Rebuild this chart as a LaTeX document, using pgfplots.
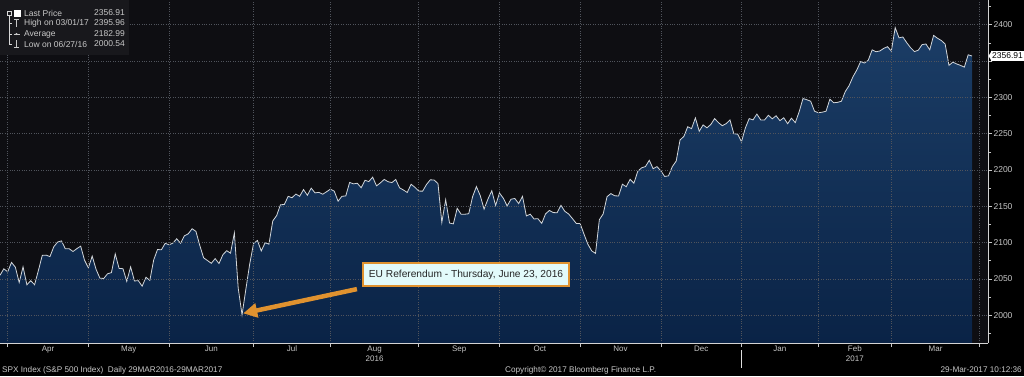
\documentclass[border=0pt]{standalone}
\usepackage{pgfplots}
\pgfplotsset{compat=1.18}
\usepackage{pgfplotstable}
\usetikzlibrary{arrows.meta}
\usepackage{fontspec}
\setmainfont{Liberation Sans}
\definecolor{bgplot}{HTML}{0E0E12}
\definecolor{navytop}{HTML}{1B3D66}
\definecolor{navybot}{HTML}{0A2346}
\definecolor{gridc}{HTML}{50545C}
\definecolor{txt}{HTML}{C8C8C8}
\definecolor{linec}{HTML}{D2D6DA}
\definecolor{arrowc}{HTML}{E0922F}
\definecolor{boxfill}{HTML}{E2FAFA}
\definecolor{legbg}{HTML}{18181C}

% rows 254-255 close the filled area down to the bottom of the axis
\pgfplotstableread{
i v
0 2055.01
1 2063.95
2 2059.74
3 2072.78
4 2066.13
5 2045.17
6 2066.66
7 2041.91
8 2047.60
9 2041.99
10 2061.72
11 2082.42
12 2082.78
13 2080.73
14 2094.34
15 2100.80
16 2102.40
17 2091.48
18 2091.58
19 2087.79
20 2091.70
21 2095.15
22 2075.81
23 2065.30
24 2081.43
25 2063.37
26 2051.12
27 2050.63
28 2057.14
29 2058.69
30 2084.39
31 2064.46
32 2064.11
33 2046.61
34 2066.66
35 2047.21
36 2047.63
37 2040.04
38 2052.32
39 2048.04
40 2076.06
41 2090.54
42 2090.10
43 2099.06
44 2096.95
45 2099.33
46 2105.26
47 2099.13
48 2109.41
49 2112.13
50 2119.12
51 2115.48
52 2096.07
53 2079.06
54 2075.32
55 2071.50
56 2077.99
57 2071.22
58 2083.25
59 2088.90
60 2085.45
61 2113.32
62 2037.41
63 2000.54
64 2036.09
65 2070.77
66 2098.86
67 2102.95
68 2088.55
69 2099.73
70 2097.90
71 2129.90
72 2137.16
73 2152.14
74 2152.43
75 2163.75
76 2161.74
77 2166.89
78 2163.78
79 2173.02
80 2165.17
81 2175.03
82 2168.48
83 2169.18
84 2166.58
85 2170.06
86 2173.60
87 2170.84
88 2157.03
89 2163.79
90 2164.25
91 2182.87
92 2180.89
93 2181.74
94 2175.49
95 2185.79
96 2184.05
97 2190.15
98 2178.15
99 2182.22
100 2187.02
101 2183.87
102 2182.64
103 2186.90
104 2175.44
105 2172.47
106 2169.04
107 2180.38
108 2176.12
109 2170.95
110 2170.86
111 2179.98
112 2186.48
113 2186.16
114 2181.30
115 2127.81
116 2159.04
117 2127.02
118 2125.77
119 2147.26
120 2139.16
121 2139.12
122 2139.76
123 2163.12
124 2177.18
125 2164.69
126 2146.10
127 2159.93
128 2171.37
129 2151.13
130 2168.27
131 2161.20
132 2150.49
133 2159.73
134 2160.77
135 2153.74
136 2163.66
137 2136.73
138 2139.18
139 2132.55
140 2132.98
141 2126.50
142 2139.60
143 2144.29
144 2141.34
145 2141.16
146 2151.33
147 2143.16
148 2139.43
149 2133.04
150 2126.41
151 2126.15
152 2111.72
153 2097.94
154 2088.66
155 2085.18
156 2131.52
157 2139.56
158 2163.26
159 2167.48
160 2164.45
161 2164.20
162 2180.39
163 2176.94
164 2187.12
165 2181.90
166 2198.18
167 2202.94
168 2204.72
169 2213.35
170 2201.72
171 2204.66
172 2198.81
173 2191.08
174 2191.95
175 2204.71
176 2212.23
177 2241.35
178 2246.19
179 2259.53
180 2256.96
181 2271.72
182 2253.28
183 2262.03
184 2258.07
185 2262.53
186 2270.76
187 2265.18
188 2260.96
189 2263.79
190 2268.88
191 2249.92
192 2249.26
193 2238.83
194 2257.83
195 2270.75
196 2269.00
197 2276.98
198 2268.90
199 2268.90
200 2275.32
201 2270.44
202 2274.64
203 2267.89
204 2271.89
205 2263.69
206 2271.31
207 2265.20
208 2280.07
209 2298.37
210 2296.68
211 2294.69
212 2280.90
213 2278.87
214 2279.55
215 2280.85
216 2297.42
217 2292.56
218 2293.08
219 2294.67
220 2307.87
221 2316.10
222 2328.25
223 2337.58
224 2349.25
225 2347.22
226 2351.16
227 2365.38
228 2362.82
229 2363.81
230 2367.34
231 2369.75
232 2363.64
233 2395.96
234 2381.92
235 2383.12
236 2375.31
237 2368.39
238 2362.98
239 2364.87
240 2372.60
241 2373.47
242 2365.45
243 2385.26
244 2381.38
245 2378.25
246 2373.47
247 2344.02
248 2348.45
249 2345.96
250 2343.98
251 2341.59
252 2358.57
253 2356.91
253 1961.8
0 1961.8
}\spx

\begin{document}
\begin{tikzpicture}[x=1pt,y=1pt]
\fill[black] (0,0) rectangle (1024,376);
\begin{axis}[
  at={(0pt,33pt)}, anchor=south west,
  scale only axis, width=988pt, height=343pt,
  xmin=0, xmax=257.16, ymin=1961.8, ymax=2434,
  axis x line*=bottom, axis y line*=right,
  axis line style={-, color=txt!80, line width=0.8pt},
  axis background/.style={fill=bgplot},
  axis on top,
  grid=major,
  major grid style={gridc, dotted, line width=0.6pt},
  xtick={2,23,44,66,86,109,130,151,172,193,213,232,255},
  xticklabels={},
  extra x ticks={12.5,33.5,55,76,97.5,119.5,140.5,161.5,182.5,203,222.5,243.5},
  extra x tick labels={Apr,May,Jun,Jul,{Aug\\2016},Sep,Oct,Nov,Dec,Jan,{Feb\\2017},Mar},
  extra x tick style={grid=none, major tick length=0pt},
  xticklabel style={align=center, font=\fontsize{8}{10}\selectfont, text=txt, yshift=1pt},
  ytick={2000,2050,2100,2150,2200,2250,2300,2350,2400},
  yticklabels={2000,2050,2100,2150,2200,2250,2300,,2400},
  minor ytick={1975,2025,2075,2125,2175,2225,2275,2325,2375,2425},
  yticklabel style={font=\fontsize{8.5}{10}\selectfont, text=txt, xshift=-2pt},
  /pgf/number format/assume math mode=true,
  /pgf/number format/1000 sep={},
  tick align=outside,
  major tick length=4pt, minor tick length=3pt,
  tick style={txt, line width=0.6pt},
]
\addplot[draw=none, shading=axis, top color=navytop, bottom color=navybot, forget plot] table[x=i,y=v]{\spx} -- cycle;
\addplot[linec, line width=0.8pt, forget plot, skip coords between index={254}{256}] table[x=i,y=v]{\spx};
\coordinate (tip) at (axis cs:63.3,2002.6);
\coordinate (tail) at (axis cs:92.9,2036);
\coordinate (box) at (axis cs:121.3,2056);
\coordinate (lp) at (axis cs:257.16,2356.91);
\coordinate (jan) at (axis cs:193,1961.8);
\end{axis}
% annotation
\draw[arrowc, line width=4.5pt, -{Triangle[length=14pt,width=14pt]}] (tail) -- (tip);
\node[draw=arrowc, line width=1.2pt, fill=boxfill, text=black!85, minimum width=206pt, minimum height=23pt, inner sep=0pt, font=\fontsize{10.2}{12}\selectfont] at (box) {EU Referendum - Thursday, June 23, 2016};
% last price tag
\fill[white] ([xshift=0.5pt]lp) -- ++(3.5,5.5) -- ++(0,-11) -- cycle;
\node[fill=white, text=black, anchor=west, inner xsep=1pt, inner ysep=2pt, font=\fontsize{8.5}{10}\selectfont] at ([xshift=3pt]lp) {2356.91};
% year separator
\draw[txt!60, line width=0.8pt] ([yshift=-7pt]jan) -- ([yshift=-25pt]jan);
% legend box
\fill[legbg] (0,376) rectangle (129,321);
\draw[txt!70, line width=0.5pt] (9,360.5) -- (9,332) -- (12,332);
\draw[txt!70, line width=0.5pt] (9,353) -- (12,353) (9,342) -- (12,342);
\draw[txt!70, line width=0.5pt] (7,361) rectangle (11,365);
\fill[white] (14,359.5) rectangle (21,366.5);
\draw[txt, line width=0.6pt] (14,357) -- (19,357) (16.5,357) -- (16.5,349);
\draw[txt, line width=0.6pt] (13.5,342) -- (19.5,342);
\fill[txt] (16.5,342) circle (1.2pt);
\draw[txt, line width=0.6pt] (16.5,336) -- (16.5,328.5) (14,328.5) -- (19,328.5);
\begin{scope}[every node/.style={inner sep=0pt, text=txt, font=\fontsize{8.5}{10}\selectfont}]
\node[anchor=west] at (24,363) {Last Price};
\node[anchor=west] at (24,353) {High on 03/01/17};
\node[anchor=west] at (24,342) {Average};
\node[anchor=west] at (24,332) {Low on 06/27/16};
\node[anchor=east] at (125,363) {2356.91};
\node[anchor=east] at (125,353) {2395.96};
\node[anchor=east] at (125,342) {2182.99};
\node[anchor=east] at (125,332) {2000.54};
\end{scope}
% footer
\begin{scope}[every node/.style={inner sep=0pt, text=txt, font=\fontsize{8.2}{9.6}\selectfont}]
\node[anchor=west] at (2,6) {SPX Index (S\&P 500 Index)\ \ Daily 29MAR2016-29MAR2017};
\node[anchor=west] at (505,6) {Copyright© 2017 Bloomberg Finance L.P.};
\node[anchor=east] at (1022,6) {29-Mar-2017 10:12:36};
\end{scope}
\pgfresetboundingbox
\useasboundingbox (0,0) rectangle (1024,376);
\end{tikzpicture}
\end{document}
